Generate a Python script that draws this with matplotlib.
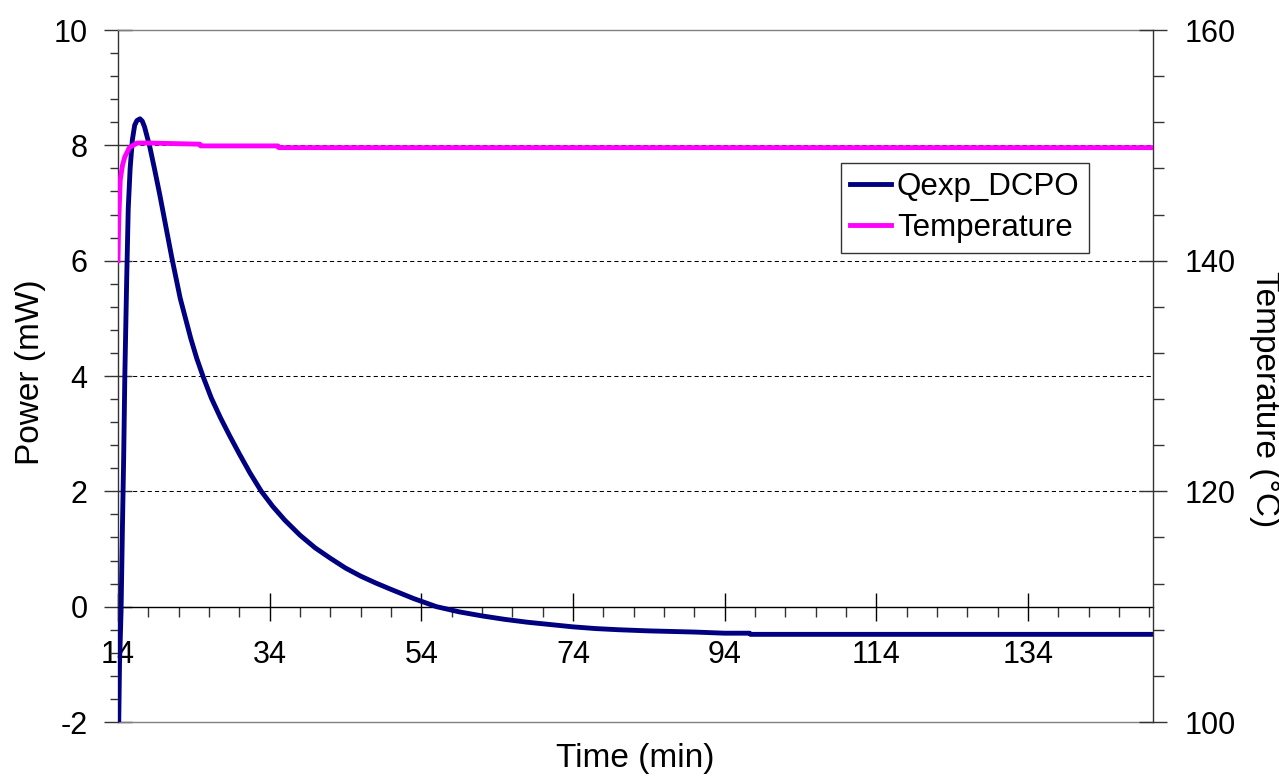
import matplotlib
matplotlib.use("Agg")
import matplotlib.pyplot as plt
from matplotlib.ticker import MultipleLocator, FixedLocator

plt.rcParams['font.family'] = ['Liberation Sans', 'DejaVu Sans']

# ---- data ----
time_q = [14.0, 14.2, 14.4, 14.6, 14.75, 14.9, 15.15, 15.35, 15.6, 15.9, 16.2, 16.5, 16.9,
          17.2, 17.5, 17.8, 18.2, 18.8, 19.5, 20.3, 21.1, 22.2, 23.0, 23.6, 24.4, 25.25,
          26.3, 27.5, 28.7, 30.0, 31.4, 32.9, 34.4, 36.0, 38.0, 40.0, 42.0, 44.0, 46.0,
          48.0, 50.0, 53.0, 56.0, 59.0, 62.0, 65.0, 68.0, 71.0, 74.0, 77.0, 80.0, 84.0,
          87.0, 90.0, 94.0, 97.3, 97.4, 150.5]
power_q = [-3.0, -1.0, -0.1, 1.5, 2.6, 4.0, 5.7, 6.9, 7.6, 8.1, 8.35, 8.43, 8.46,
           8.42, 8.32, 8.17, 7.97, 7.6, 7.15, 6.6, 6.05, 5.35, 4.95, 4.65, 4.3, 3.98,
           3.62, 3.28, 2.97, 2.65, 2.32, 2.0, 1.74, 1.5, 1.24, 1.02, 0.84, 0.67, 0.53,
           0.41, 0.3, 0.14, 0.0, -0.09, -0.16, -0.22, -0.27, -0.31, -0.35, -0.38, -0.40, -0.42,
           -0.43, -0.44, -0.46, -0.46, -0.48, -0.48]

time_t = [14.0, 14.05, 14.1, 14.3, 14.6, 14.9, 15.5, 16.5, 18.0, 24.8, 24.9, 35.1, 35.2, 150.5]
temp_t = [140.0, 142.0, 143.5, 147.0, 148.3, 149.0, 149.8, 150.2, 150.2, 150.1, 149.95, 149.95, 149.8, 149.8]

x_ticks = [14, 34, 54, 74, 94, 114, 134]
power_ticks = [-2, 0, 2, 4, 6, 8, 10]
temp_ticks = [100, 120, 140, 160]

FS = 22
LFS = 24
GFS = 22.5

fig = plt.figure(figsize=(12.79, 7.80), dpi=100)
ax = fig.add_axes([118/1279, 58/780, 1035/1279, 692/780])
ax2 = ax.twinx()

ax.set_axisbelow(True)
ax.plot(time_q, power_q, color='#000080', lw=3.5, label='Qexp_DCPO',
        solid_joinstyle='round', zorder=3)
ax2.plot(time_t, temp_t, color='#FF00FF', lw=3.5, label='Temperature', zorder=3)

ax.set_xlim(14, 150.5)
ax.set_ylim(-2, 10)
ax2.set_ylim(100, 160)

# grid
for yv in [2, 4, 6, 8]:
    ax.axhline(yv, color='black', lw=0.75, ls=(0, (4, 3)), zorder=0.5)

# spines
ax.spines['bottom'].set_position(('data', 0))
ax.spines['bottom'].set_color('black')
ax.spines['bottom'].set_linewidth(1.0)
ax.spines['top'].set_color('#808080')
ax.spines['top'].set_linewidth(1.0)
ax.spines['left'].set_color('#333333')
ax.spines['left'].set_linewidth(1.0)
ax.spines['right'].set_visible(False)
for s in ['top', 'bottom', 'left']:
    ax2.spines[s].set_visible(False)
ax2.spines['right'].set_color('#333333')
ax2.spines['right'].set_linewidth(1.0)
# bottom border of plot area
ax.plot([0, 1], [0, 0], transform=ax.transAxes, color='#808080', lw=1.0, clip_on=False, zorder=1)

# ticks
ax.xaxis.set_major_locator(FixedLocator(x_ticks))
ax.xaxis.set_minor_locator(FixedLocator([x for x in range(18, 151, 4) if (x - 14) % 20 != 0]))
ax.yaxis.set_major_locator(FixedLocator(power_ticks))
ax.yaxis.set_minor_locator(MultipleLocator(0.4))
ax2.yaxis.set_major_locator(FixedLocator(temp_ticks))
ax2.yaxis.set_minor_locator(MultipleLocator(4))

ax.tick_params(axis='x', which='major', direction='inout', length=20, width=1.0,
               labelsize=FS, pad=14, colors='black')
ax.tick_params(axis='x', which='minor', direction='out', length=7, width=1.0, colors='#333333')
ax.tick_params(axis='y', which='major', direction='inout', length=20, width=1.0,
               labelsize=FS, pad=12, colors='#333333', labelcolor='black')
ax.tick_params(axis='y', which='minor', direction='out', length=6, width=1.0, colors='#333333')
ax2.tick_params(axis='y', which='major', direction='inout', length=20, width=1.0,
                labelsize=FS, pad=13, colors='#333333', labelcolor='black')
ax2.tick_params(axis='y', which='minor', direction='out', length=8, width=1.0, colors='#333333')

ax.set_xticklabels([str(v) for v in x_ticks])
ax.set_yticklabels([str(v) for v in power_ticks])
ax2.set_yticklabels([str(v) for v in temp_ticks])

# labels
ax.set_xlabel('Time (min)', fontsize=LFS)
ax.xaxis.set_label_coords(0.5, -0.03)
ax.set_ylabel('Power (mW)', fontsize=LFS, va='center')
ax.yaxis.set_label_coords(-0.085, 0.505)
ax2.set_ylabel('Temperature (°C)', fontsize=LFS, rotation=270, va='center', ha='center')
ax2.yaxis.set_label_coords(1.108, 0.467)

# legend
h1, l1 = ax.get_legend_handles_labels()
h2, l2 = ax2.get_legend_handles_labels()
leg = ax2.legend(h1 + h2, l1 + l2, loc='upper right', bbox_to_anchor=(0.938, 0.808),
                 borderaxespad=0, fontsize=GFS, frameon=True, fancybox=False,
                 edgecolor='black', handlelength=1.3, handletextpad=0.2,
                 borderpad=0.3, labelspacing=0.35)
leg.get_frame().set_linewidth(1.0)

fig.savefig('out.png', dpi=100)
